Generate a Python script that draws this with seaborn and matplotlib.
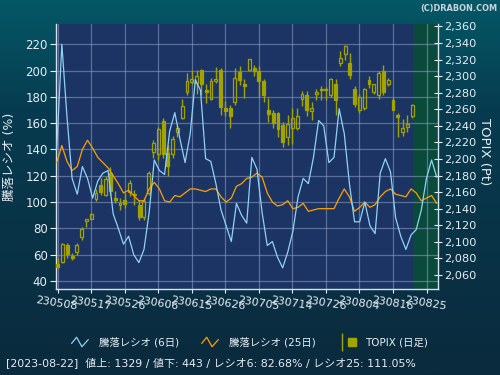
import numpy as np
import pandas as pd
import matplotlib
matplotlib.use("Agg")
import matplotlib.pyplot as plt
import seaborn as sns
from matplotlib.lines import Line2D
from matplotlib.legend_handler import HandlerBase, HandlerTuple
from matplotlib.ticker import FuncFormatter, MultipleLocator, FixedLocator
from matplotlib.colors import LinearSegmentedColormap

# ---------------- data ----------------
dates = ["230508", "230509", "230510", "230511", "230512", "230515", "230516", "230517",
         "230518", "230519", "230522", "230523", "230524", "230525", "230526", "230529",
         "230530", "230531", "230601", "230602", "230605", "230606", "230607", "230608",
         "230609", "230612", "230613", "230614", "230615", "230616", "230619", "230620",
         "230621", "230622", "230623", "230626", "230627", "230628", "230629", "230630",
         "230703", "230704", "230705", "230706", "230707", "230710", "230711", "230712",
         "230713", "230714", "230718", "230719", "230720", "230721", "230724", "230725",
         "230726", "230727", "230728", "230731", "230801", "230802", "230803", "230804",
         "230807", "230808", "230809", "230810", "230814", "230815", "230816", "230817",
         "230818", "230821", "230822"]

topix_open = [2073, 2076, 2096, 2083, 2088, 2106, 2125, 2128, 2152, 2169, 2157, 2183, 2153, 2144, 2151,
              2160, 2158, 2144, 2130, 2159, 2209, 2206, 2246, 2207, 2206, 2233, 2249, 2281, 2293, 2292,
              2308, 2283, 2272, 2294, 2308, 2261, 2261, 2269, 2305, 2291, 2307, 2310, 2306, 2294, 2259,
              2255, 2255, 2241, 2227, 2238, 2238, 2272, 2277, 2258, 2278, 2285, 2285, 2277, 2290, 2316,
              2327, 2316, 2284, 2259, 2261, 2295, 2281, 2277, 2306, 2290, 2271, 2253, 2233, 2239, 2252]
topix_high = [2080, 2098, 2098, 2086, 2099, 2118, 2128, 2135, 2164, 2177, 2179, 2190, 2161, 2153, 2159,
              2175, 2163, 2151, 2153, 2185, 2223, 2239, 2249, 2217, 2228, 2241, 2273, 2304, 2308, 2308,
              2309, 2290, 2298, 2311, 2310, 2270, 2265, 2310, 2312, 2296, 2321, 2313, 2312, 2297, 2274,
              2259, 2257, 2245, 2253, 2261, 2261, 2282, 2282, 2269, 2284, 2288, 2287, 2298, 2296, 2330,
              2338, 2328, 2288, 2279, 2286, 2300, 2291, 2306, 2314, 2298, 2274, 2255, 2248, 2253, 2267]
topix_low = [2068, 2075, 2081, 2078, 2084, 2102, 2118, 2127, 2149, 2157, 2155, 2157, 2147, 2138, 2141,
             2155, 2145, 2126, 2126, 2157, 2201, 2199, 2201, 2179, 2201, 2227, 2248, 2277, 2291, 2279,
             2277, 2268, 2271, 2292, 2253, 2252, 2238, 2265, 2289, 2274, 2307, 2300, 2275, 2269, 2245,
             2238, 2227, 2215, 2217, 2218, 2235, 2264, 2252, 2247, 2271, 2271, 2271, 2275, 2253, 2312,
             2320, 2296, 2263, 2256, 2259, 2286, 2278, 2273, 2277, 2288, 2259, 2227, 2228, 2233, 2249]
topix_close = [2070, 2097, 2085, 2081, 2096, 2115, 2127, 2133, 2159, 2160, 2176, 2161, 2151, 2147, 2146,
               2171, 2156, 2130, 2149, 2183, 2219, 2236, 2206, 2191, 2224, 2238, 2264, 2294, 2296, 2300,
               2290, 2281, 2294, 2296, 2263, 2258, 2252, 2298, 2295, 2288, 2321, 2306, 2294, 2277, 2254,
               2243, 2236, 2221, 2242, 2249, 2252, 2278, 2259, 2261, 2281, 2283, 2283, 2296, 2271, 2322,
               2337, 2301, 2267, 2275, 2284, 2291, 2290, 2304, 2281, 2295, 2259, 2251, 2237, 2242, 2265]

ratio6 = [140, 220, 165, 118, 106, 127, 118, 103, 116, 122, 124, 91, 80, 68, 74, 60, 54, 64, 92, 132,
          124, 121, 154, 168, 148, 130, 152, 193, 185, 133, 131, 114, 94, 82, 70, 99, 90, 84, 134, 125,
          92, 67, 70, 58, 50, 62, 78, 104, 118, 114, 134, 162, 158, 130, 134, 171, 152, 114, 85, 85,
          100, 82, 76, 122, 133, 123, 88, 74, 64, 75, 79, 94, 118, 132, 119]
ratio25 = [130, 143, 131, 124, 127, 140, 147, 141, 134, 130, 126, 120, 114, 107, 109, 105, 101, 101, 110, 115,
           110, 101, 100, 105, 104, 107, 110, 110, 109, 108, 110, 110, 104, 100, 103, 112, 114, 118, 119, 122,
           119, 107, 100, 97, 98, 101, 95, 96, 99, 93, 94, 95, 95, 95, 95, 103, 110, 104, 93, 96,
           100, 96, 98, 104, 108, 110, 106, 105, 104, 110, 107, 101, 103, 105, 99]

tick_labels = ["230508", "230517", "230526", "230606", "230615", "230626",
               "230705", "230714", "230726", "230804", "230816", "230825"]

legend_labels = ["騰落レシオ (6日)", "騰落レシオ (25日)", "TOPIX (日足)"]
footer = "[2023-08-22]  値上: 1329 / 値下: 443 / レシオ6: 82.68% / レシオ25: 111.05%"

# ---------------- style ----------------
sns.set_theme(style="dark")
plt.rcParams["font.family"] = ["DejaVu Sans", "Noto Sans CJK JP"]
plt.rcParams["axes.unicode_minus"] = False

C_BLUE = "#8fd3f4"
C_ORANGE = "#ffa000"
C_CANDLE = "#a3a300"
C_PLOT = "#1b3463"
C_FUTURE = "#0a4a3b"
C_GRID = "#8898bd"
C_TEXT = "#e6edf3"

fig = plt.figure(figsize=(5, 3.75), dpi=100)

# background gradient
bg = fig.add_axes([0, 0, 1, 1], zorder=-10)
grad = np.linspace(0, 1, 256).reshape(-1, 1)
cmap = LinearSegmentedColormap.from_list("bg", [(0, "#045866"), (0.3, "#073b4f"), (1, "#0b2a3d")])
bg.imshow(grad, aspect="auto", cmap=cmap, extent=[0, 1, 0, 1], origin="upper")
bg.set_axis_off()

ax = fig.add_axes([0.112, 0.2293, 0.764, 0.7067])
ax.set_facecolor(C_PLOT)
n = len(dates)
day_idx = np.arange(n)
ax.set_xlim(-0.355, 79.4)
ax.set_ylim(33.9, 235.4)
ax.axvspan(n - 0.75, 79.4, color=C_FUTURE, zorder=0.5, lw=0)

tick_pos = np.arange(len(tick_labels)) * 7
ax.xaxis.set_major_locator(FixedLocator(tick_pos))
ax.set_xticklabels(tick_labels, rotation=-9, ha="center", rotation_mode="anchor")
ax.yaxis.set_major_locator(MultipleLocator(20))
ax.grid(True, color=C_GRID, alpha=0.6, linewidth=0.9)
ax.tick_params(axis="x", colors=C_TEXT, labelsize=8, length=3, width=0.8, direction="out", pad=4, bottom=True)
ax.tick_params(axis="y", colors=C_TEXT, labelsize=8.5, length=4, width=0.8, direction="out", left=True, pad=2)
for lab in ax.get_xticklabels():
    lab.set_color(C_TEXT)
ax.set_ylabel("騰落レシオ (%)", color=C_TEXT, fontsize=9)
ax.yaxis.set_label_coords(-0.105, 0.5)
for s in ["left", "bottom"]:
    ax.spines[s].set_color("#d8e2ee")
    ax.spines[s].set_linewidth(1)
ax.spines["top"].set_visible(False)
ax.spines["right"].set_visible(False)

# ---------------- candles (TOPIX, right axis) ----------------
ax2 = ax.twinx()
ax2.patch.set_visible(False)
ax2.set_ylim(2043, 2363)
o = np.array(topix_open, float)
h = np.array(topix_high, float)
l = np.array(topix_low, float)
c = np.array(topix_close, float)
top = np.maximum(o, c)
bot = np.minimum(o, c)
up = c >= o
ax2.vlines(day_idx, top, h, color=C_CANDLE, linewidth=1, zorder=3)
ax2.vlines(day_idx, l, bot, color=C_CANDLE, linewidth=1, zorder=3)
body_h = np.maximum(top - bot, 1.2)
face = [(0, 0, 0, 0) if u else C_CANDLE for u in up]
ax2.bar(day_idx, body_h, bottom=bot, width=0.6, color=face, edgecolor=C_CANDLE,
        linewidth=0.9, zorder=4)
ax2.yaxis.set_major_locator(MultipleLocator(20))
ax2.yaxis.set_major_formatter(FuncFormatter(lambda v, p: f"{int(round(v)):,}"))
ax2.tick_params(axis="y", colors=C_TEXT, labelsize=8.2, length=6, width=0.8, direction="inout", right=True, pad=1.5)
ax2.set_ylabel("TOPIX (Pt)", color=C_TEXT, fontsize=9.5, rotation=270)
ax2.yaxis.set_label_coords(1.14, 0.52)
ax2.grid(False)
for s in ["left", "top", "bottom"]:
    ax2.spines[s].set_visible(False)
ax2.spines["right"].set_color("#d8e2ee")
ax2.spines["right"].set_linewidth(1)

# ---------------- ratio lines ----------------
axl = ax.twiny()
axl.patch.set_visible(False)
line_idx = np.arange(len(ratio6))
df = pd.DataFrame({"k": line_idx, "r6": ratio6, "r25": ratio25})
sns.lineplot(data=df, x="k", y="r25", ax=axl, color=C_ORANGE, linewidth=0.9, zorder=5)
sns.lineplot(data=df, x="k", y="r6", ax=axl, color=C_BLUE, linewidth=0.9, zorder=6)
axl.set_xlim(-0.136, len(ratio6) - 1 + 0.25)
axl.set_xlabel("")
axl.set_ylabel("")
axl.xaxis.set_visible(False)
axl.grid(False)
for s in axl.spines.values():
    s.set_visible(False)
ax.set_ylim(33.9, 235.4)

# ---------------- legend ----------------
class ZigZag(HandlerBase):
    def create_artists(self, legend, orig_handle, xdescent, ydescent, width, height, fontsize, trans):
        xs = np.array([0.0, 0.3, 0.62, 1.0]) * width - xdescent
        ys = np.array([0.35, 1.0, 0.0, 0.75]) * height * 1.3 - ydescent - 0.15 * height
        return [Line2D(xs, ys, color=orig_handle.get_color(), lw=0.9, transform=trans)]

h1 = Line2D([], [], color=C_BLUE)
h2 = Line2D([], [], color=C_ORANGE)
h3a = Line2D([], [], color=C_CANDLE, marker="|", markersize=13, markeredgewidth=1, linestyle="none")
h3b = Line2D([], [], color=C_CANDLE, marker="s", markersize=6, markeredgecolor=C_CANDLE, linestyle="none")
leg = fig.legend([h1, h2, (h3a, h3b)], legend_labels, loc="center", bbox_to_anchor=(0.5, 0.087),
                 ncol=3, frameon=False, fontsize=7.5, handlelength=1.6, columnspacing=2.2,
                 handletextpad=1.0,
                 handler_map={h1: ZigZag(), h2: ZigZag(), tuple: HandlerTuple(ndivide=None)})
for t in leg.get_texts():
    t.set_color(C_TEXT)

fig.text(0.012, 0.032, footer, color=C_TEXT, fontsize=7.9, va="center", ha="left")
fig.text(0.994, 0.99, "(C)DRABON.COM", color="#c9d2da", fontsize=6.6, fontweight="bold",
         fontstretch="condensed", family=["DejaVu Sans"], ha="right", va="top")

fig.savefig("out.png", dpi=100, facecolor=fig.get_facecolor())
